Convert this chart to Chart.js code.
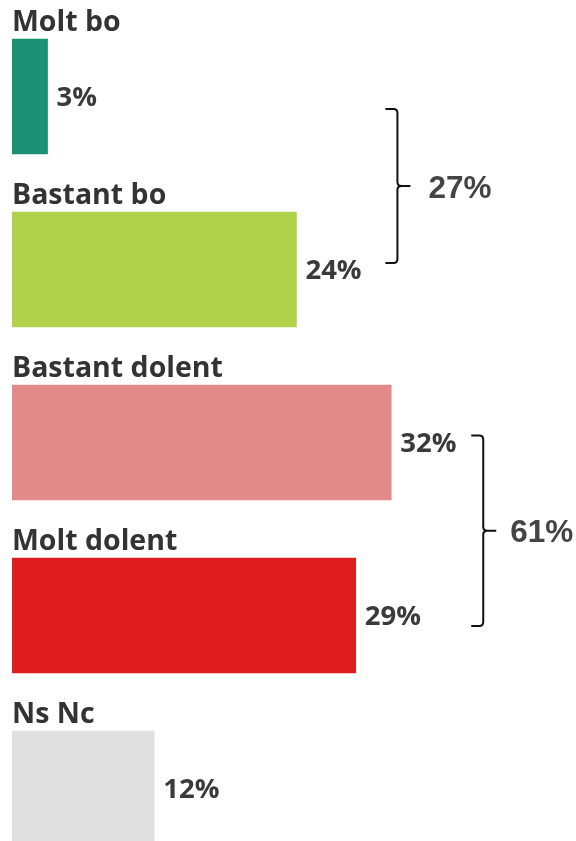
<!DOCTYPE html>
<html>
<head>
<meta charset="utf-8">
<script src="https://cdn.jsdelivr.net/npm/chart.js@4.4.1/dist/chart.umd.min.js"></script>
<style>
  html, body { margin: 0; padding: 0; background: #ffffff; overflow: hidden; }
  #wrap { position: relative; width: 576px; height: 841px; }
</style>
</head>
<body>
<div id="wrap"><canvas id="chart"></canvas></div>
<script>
// Valoració: share of answers per option (%)
const categories = ['Molt bo', 'Bastant bo', 'Bastant dolent', 'Molt dolent', 'Ns Nc'];
const shares = [3, 24, 32, 29, 12];
const barColors = ['#1b9174', '#b2d14a', '#e28a89', '#de1c1d', '#e0e0e0'];

// Options joined by a brace with their combined total
const braceGroups = [[0, 1], [2, 3]];
// Brace placement relative to the bars it spans (pixels)
const braceStyle = [
  { dTop: 12.5, dBottom: -6.5, dx: 101, labelGap: 31 },
  { dTop: -7,   dBottom: 10.5, dx: 92,  labelGap: 27 }
];

const labelFont = 'bold 28.5px "Open Sans", Lato, sans-serif';
const valueFont = 'bold 27.5px "Open Sans", Lato, sans-serif';
const totalFont = 'bold 31.5px "Liberation Sans", Arial, sans-serif';

const annotations = {
  id: 'annotations',
  afterDatasetsDraw(chart) {
    const ctx = chart.ctx;
    const bars = chart.getDatasetMeta(0).data;
    ctx.save();

    // category names above each bar, values after each bar end
    bars.forEach((bar, i) => {
      const top = bar.y - bar.height / 2;
      ctx.font = labelFont;
      ctx.fillStyle = '#333333';
      ctx.textAlign = 'left';
      ctx.textBaseline = 'alphabetic';
      ctx.fillText(categories[i], chart.chartArea.left, top - 8);

      ctx.font = valueFont;
      ctx.fillStyle = '#3a3a3a';
      ctx.textBaseline = 'middle';
      ctx.fillText(shares[i] + '%', bar.x + 9, bar.y + 2);
    });

    // braces with the group totals
    braceGroups.forEach((grp, g) => {
      const st = braceStyle[g];
      const first = bars[grp[0]];
      const last = bars[grp[grp.length - 1]];
      const top = first.y + st.dTop;
      const bottom = last.y + st.dBottom;
      const mid = (top + bottom) / 2;
      const xv = Math.max(...grp.map(i => bars[i].x)) + st.dx;
      const arm = 12, r = 4, tick = 13;

      ctx.strokeStyle = '#111111';
      ctx.lineWidth = 2;
      ctx.lineCap = 'butt';
      ctx.beginPath();
      ctx.moveTo(xv - arm, top);
      ctx.lineTo(xv - r, top);
      ctx.quadraticCurveTo(xv, top, xv, top + r);
      ctx.lineTo(xv, mid - r);
      ctx.quadraticCurveTo(xv, mid, xv + r, mid);
      ctx.lineTo(xv + tick, mid);
      ctx.moveTo(xv + r, mid);
      ctx.quadraticCurveTo(xv, mid, xv, mid + r);
      ctx.lineTo(xv, bottom - r);
      ctx.quadraticCurveTo(xv, bottom, xv - r, bottom);
      ctx.lineTo(xv - arm, bottom);
      ctx.stroke();

      const total = grp.reduce((s, i) => s + shares[i], 0);
      ctx.font = totalFont;
      ctx.fillStyle = '#444444';
      ctx.textAlign = 'left';
      ctx.textBaseline = 'middle';
      ctx.fillText(total + '%', xv + st.labelGap, mid + 3);
    });

    ctx.restore();
  }
};

new Chart(document.getElementById('chart'), {
  type: 'bar',
  data: {
    datasets: [{
      data: shares.map((v, i) => ({ x: v, y: i })),
      backgroundColor: barColors,
      borderWidth: 0,
      barThickness: 115
    }]
  },
  options: {
    indexAxis: 'y',
    responsive: true,
    maintainAspectRatio: false,
    animation: false,
    layout: { padding: { left: 12, right: 7, top: 10, bottom: 0 } },
    plugins: { legend: { display: false }, tooltip: { enabled: false } },
    scales: {
      x: { type: 'linear', min: 0, max: 47, display: false },
      y: { type: 'linear', reverse: true, offset: false, min: -0.5, max: 4.3035, display: false }
    }
  },
  plugins: [annotations]
});
</script>
</body>
</html>
